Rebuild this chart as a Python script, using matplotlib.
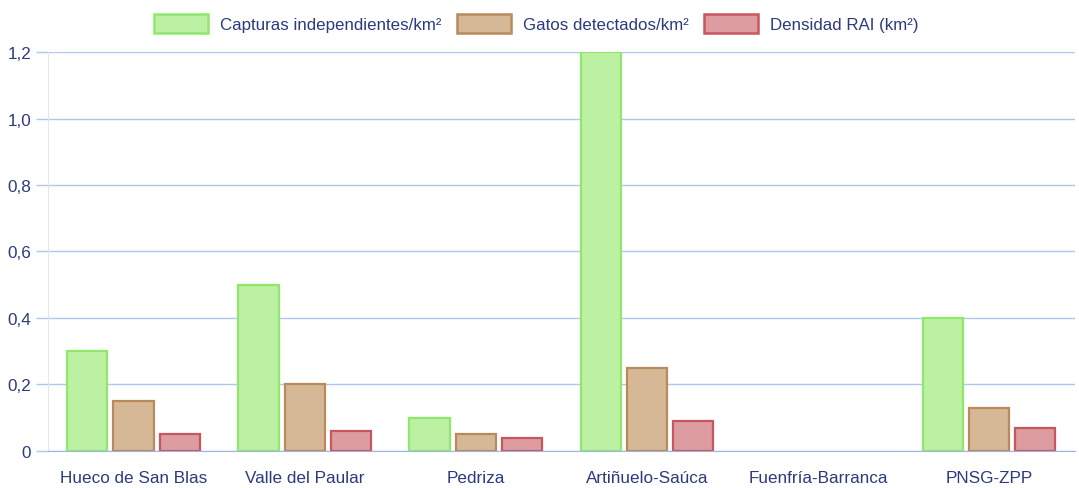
import numpy as np
import matplotlib
matplotlib.use("Agg")
import matplotlib.pyplot as plt
import matplotlib.ticker as mticker
from matplotlib.patches import Patch

plt.rcParams['font.family'] = ['Liberation Sans', 'DejaVu Sans']

zonas = ['Hueco de San Blas', 'Valle del Paular', 'Pedriza', 'Artiñuelo-Saúca',
         'Fuenfría-Barranca', 'PNSG-ZPP']
capturas = [0.30, 0.50, 0.10, 1.20, 0.0, 0.40]
gatos = [0.15, 0.20, 0.05, 0.25, 0.0, 0.13]
rai = [0.05, 0.06, 0.04, 0.09, 0.0, 0.07]
series_names = ['Capturas independientes/km²', 'Gatos detectados/km²', 'Densidad RAI (km²)']
y_ticks = [0, 0.2, 0.4, 0.6, 0.8, 1.0, 1.2]

fills = ['#bcf0a2', '#d7b896', '#dc9ca0']
edges = ['#8fe86c', '#b98a5c', '#c9565e']
text_col = '#2c3a7e'

fig = plt.figure(figsize=(10.79, 4.89), dpi=100)
ax = fig.add_axes([0.0445, 0.0757, 0.9515, 0.8159])

x = np.arange(len(zonas))
w = 0.235
off = 0.27
for i, vals in enumerate([capturas, gatos, rai]):
    lw = [1.6 if v > 0 else 0 for v in vals]
    ax.bar(x + (i - 1) * off, vals, width=w, color=fills[i], edgecolor=edges[i],
           linewidth=lw, zorder=3)

ax.set_xlim(-0.5, len(zonas) - 0.5)
ax.set_ylim(0, 1.2)
ax.set_yticks(y_ticks)
ax.yaxis.set_major_formatter(mticker.FuncFormatter(
    lambda v, p: '0' if v == 0 else ('%.1f' % v).replace('.', ',')))
ax.set_xticks(x)
ax.set_xticklabels(zonas)
ax.tick_params(axis='x', length=0, pad=14, labelsize=12.3, labelcolor=text_col)
ax.tick_params(axis='y', length=9, width=1, color='#b0c6ee', pad=3,
               labelsize=12.3, labelcolor=text_col)
ax.yaxis.grid(True, color='#b0c6ee', linewidth=1, zorder=0)
ax.set_axisbelow(True)
for s in ['top', 'right']:
    ax.spines[s].set_visible(False)
ax.spines['left'].set_color('#e6e6e6')
ax.spines['bottom'].set_color('#9fb4e6')
ax.spines['bottom'].set_zorder(4)

handles = [Patch(facecolor=fills[i], edgecolor=edges[i], linewidth=1.8) for i in range(3)]
fig.legend(handles, series_names, loc='upper center', bbox_to_anchor=(0.497, 1.0),
           ncol=3, frameon=False, fontsize=12.2, labelcolor=text_col,
           handlelength=3.2, handleheight=1.3, columnspacing=0.9, handletextpad=0.7)

fig.savefig('out.png', dpi=100)
